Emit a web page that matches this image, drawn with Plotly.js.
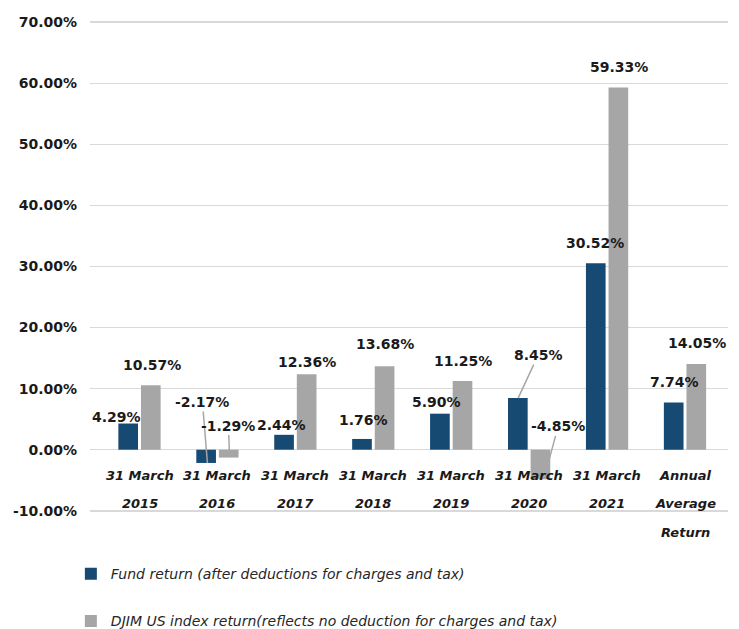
<!DOCTYPE html>
<html>
<head>
<meta charset="utf-8">
<script src="https://cdn.plot.ly/plotly-3.0.1.min.js"></script>
<style>html,body{margin:0;padding:0;background:#fff;}#chart{width:739px;height:629px;}</style>
</head>
<body>
<div id="chart"></div>
<script>
// ---- data ----
const categories = ['31 March 2015', '31 March 2016', '31 March 2017', '31 March 2018', '31 March 2019', '31 March 2020', '31 March 2021', 'Annual Average Return'];
const categoryLines = [['31 March', '2015'], ['31 March', '2016'], ['31 March', '2017'], ['31 March', '2018'], ['31 March', '2019'], ['31 March', '2020'], ['31 March', '2021'], ['Annual', 'Average', 'Return']];
const fundReturn = [4.29, -2.17, 2.44, 1.76, 5.90, 8.45, 30.52, 7.74];
const indexReturn = [10.57, -1.29, 12.36, 13.68, 11.25, -4.85, 59.33, 14.05];
const seriesNames = ['Fund return (after deductions for charges and tax)', 'DJIM US index return(reflects no deduction for charges and tax)'];
const yTicks = [-10, 0, 10, 20, 30, 40, 50, 60, 70];

// ---- label placement (pixels) ----
const fundLabelPos = [
  {xs: -23, ys: 7}, {xs: -10, ys: 0, ax: -5, ay: -61}, {xs: -14, ys: 10}, {xs: -10, ys: 19},
  {xs: -15, ys: 12}, {xs: -11, ys: 0, ax: 20, ay: -43}, {xs: -12, ys: 20}, {xs: -11, ys: 20}
];
const indexLabelPos = [
  {xs: 12, ys: 20}, {xs: 12, ys: 4, ax: -1, ay: -28}, {xs: 12, ys: 12}, {xs: 12, ys: 22},
  {xs: 12, ys: 20}, {xs: 19, ys: 16, ax: 10, ay: -37}, {xs: 12, ys: 20}, {xs: 12, ys: 21}
];

const FONT = 'DejaVu Sans, Liberation Sans, sans-serif';
const labelFont = {family: FONT, size: 14, color: '#1a1a1a', weight: 'bold'};

const traces = [
  {type: 'bar', x: categories, y: fundReturn, name: seriesNames[0], legendgroup: 'a',
   marker: {color: '#164a73'}, hoverinfo: 'none'},
  {type: 'bar', x: categories, y: indexReturn, name: seriesNames[1], legendgroup: 'b',
   marker: {color: '#a6a6a6'}, hoverinfo: 'none'}
];

const annotations = [];
function addLabels(values, pos) {
  values.forEach((v, i) => {
    const p = pos[i];
    const a = {x: categories[i], y: v, xref: 'x', yref: 'y', text: v.toFixed(2) + '%',
      font: labelFont, xshift: p.xs, yshift: p.ys};
    if (p.ax !== undefined) {
      Object.assign(a, {showarrow: true, ax: p.ax, ay: p.ay, arrowhead: 0, arrowwidth: 1.5,
        arrowcolor: '#a6a6a6', standoff: 0, startstandoff: 0});
    } else {
      Object.assign(a, {showarrow: false, xanchor: 'center', yanchor: 'middle'});
    }
    annotations.push(a);
  });
}
addLabels(fundReturn, fundLabelPos);
addLabels(indexReturn, indexLabelPos);

const lineOffsets = [-26, -54, -83];
categoryLines.forEach((lines, i) => {
  lines.forEach((t, j) => {
    annotations.push({x: categories[i], y: 0, xref: 'x', yref: 'y', text: t, showarrow: false,
      xanchor: 'center', yanchor: 'middle', yshift: lineOffsets[j],
      font: {family: FONT, size: 13, color: '#1a1a1a', weight: 'bold', style: 'italic'}});
  });
});

const layout = {
  width: 739, height: 629,
  margin: {l: 90, r: 11, t: 21, b: 117, autoexpand: false},
  paper_bgcolor: '#ffffff', plot_bgcolor: '#ffffff',
  barmode: 'group', bargap: 0.42, bargroupgap: 0.13,
  showlegend: true,
  legend: {x: -0.03, xanchor: 'left', y: -0.094, yanchor: 'top', orientation: 'v',
    traceorder: 'grouped', tracegroupgap: 26, itemwidth: 30,
    font: {family: FONT, size: 14, color: '#262626', style: 'italic'}},
  xaxis: {type: 'category', showticklabels: false, showgrid: false, zeroline: false,
    showline: false, ticks: '', fixedrange: true},
  yaxis: {range: [-10.2, 70.2], tickvals: yTicks, ticktext: yTicks.map(v => v.toFixed(2) + '%'),
    showgrid: true, gridcolor: '#d9d9d9', gridwidth: 1.5, zeroline: false, showline: false,
    ticks: '', ticklabelstandoff: 12,
    tickfont: {family: FONT, size: 14, color: '#1a1a1a', weight: 'bold'}},
  annotations: annotations
};

Plotly.newPlot('chart', traces, layout, {displayModeBar: false, staticPlot: true});
</script>
</body>
</html>
